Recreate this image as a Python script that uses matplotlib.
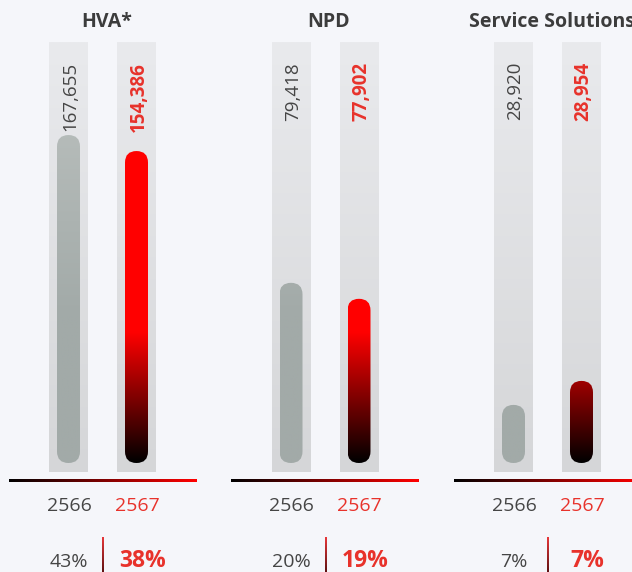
import numpy as np
import matplotlib.pyplot as plt
from matplotlib.patches import FancyBboxPatch
from matplotlib.colors import to_rgb

## data
categories = ['HVA*', 'NPD', 'Service Solutions']
years = ['2566', '2567']
value_2566 = [167655, 79418, 28920]
value_2567 = [154386, 77902, 28954]
share_2566 = [43, 20, 7]
share_2567 = [38, 19, 7]
# fill level of each pill, in percent of the track height
fill_2566 = [77.9, 42.8, 13.8]
fill_2567 = [74.1, 39.0, 19.5]

plt.rcParams['font.family'] = ['Open Sans', 'DejaVu Sans']

W, H = 632, 572
k = 4.21            # pixels per fill unit (track: 0..100)
base_px = 463       # pixel row of the pill bottoms

fig = plt.figure(figsize=(W / 100, H / 100), dpi=100, facecolor='#f5f6fa')
ax = fig.add_axes([0, 0, 1, 1])
ax.set_facecolor('#f5f6fa')

def py(px):
    ## pixel offset below pill bottom -> fill units
    return -px / k

DARK = '#3c3c3c'
RED = '#e8322b'

def mix(c1, c2, t):
    a, b = np.array(to_rgb(c1)), np.array(to_rgb(c2))
    t = min(max(t, 0), 1)
    return a + (b - a) * t

def grad_v(x0, x1, y0, y1, colfun, clip=None, z=2):
    yy = np.linspace(y0, y1, 200)
    arr = np.array([colfun(v) for v in yy])[:, None, :]
    im = ax.imshow(arr, extent=[x0, x1, y0, y1], origin='lower',
                   aspect='auto', interpolation='bilinear', zorder=z)
    if clip is not None:
        im.set_clip_path(clip)
    return im

def grad_h(x0, x1, y0, y1, c1, c2, z=2):
    arr = np.array([mix(c1, c2, t) for t in np.linspace(0, 1, 200)])[None, :, :]
    ax.imshow(arr, extent=[x0, x1, y0, y1], origin='lower',
              aspect='auto', interpolation='bilinear', zorder=z)

def track_col(v):
    return mix('#d5d6d8', '#e9eaed', (v + 2.1) / 102)

def gray_col(v):
    return mix('#a2aaa8', '#b6bcba', (v - 35) / 45)

def red_col(v):
    return mix('#000000', '#ff0000', v / 31)

track_w, bar_w, off = 39, 23, 34
for i, cat in enumerate(categories):
    cx = 102.5 + 222.5 * i
    fills = [fill_2566[i], fill_2567[i]]
    vals = [value_2566[i], value_2567[i]]
    shares = [share_2566[i], share_2567[i]]
    for j in range(2):
        xc = cx + (2 * j - 1) * off
        # background track
        grad_v(xc - track_w / 2, xc + track_w / 2, py(9), 100, track_col, z=1)
        # pill
        pill = FancyBboxPatch((xc - bar_w / 2, 0), bar_w, fills[j],
                              boxstyle='round,pad=0,rounding_size=11.5',
                              mutation_aspect=1 / k, fc='none', ec='none', zorder=2)
        ax.add_patch(pill)
        grad_v(xc - bar_w / 2, xc + bar_w / 2, 0, fills[j],
               red_col if j else gray_col, clip=pill, z=2)
        # value label
        ax.text(xc + 2, 100 - 20 / k, f'{vals[j]:,}', rotation=90, ha='center', va='top',
                fontsize=13.5, color=RED if j else '#454545',
                fontweight='bold' if j else 'normal', zorder=3)
        # year label
        ax.text(xc + 0.5, py(43), years[j], ha='center', va='center',
                fontsize=14, color=RED if j else '#454545')
        # share label
        if j:
            ax.text(xc + 6, py(98), f'{shares[j]}%', ha='center', va='center',
                    fontsize=16.5, fontweight='bold', color=RED)
        else:
            ax.text(xc, py(99), f'{shares[j]}%', ha='center', va='center',
                    fontsize=14, color='#454545')
    # title
    ax.text(cx + 4, py(-441), cat, ha='center', va='center', fontsize=14,
            fontweight='bold', color=DARK)
    # gradient baseline
    grad_h(cx - 94, cx + 94, py(19.3), py(16.9), '#000000', '#ff0000')
    # separator between shares
    sep = np.array([mix('#e8383a', '#5a1010', t) for t in np.linspace(0, 1, 100)])[::-1]
    ax.imshow(sep[:, None, :], extent=[cx - 0.2, cx + 1.2, py(110), py(74)],
              origin='lower', aspect='auto', interpolation='bilinear', zorder=2)

ax.set_xlim(0, W)
ax.set_ylim(py(H - base_px), base_px / k)
ax.axis('off')

fig.savefig('out.png', dpi=100, facecolor=fig.get_facecolor())
